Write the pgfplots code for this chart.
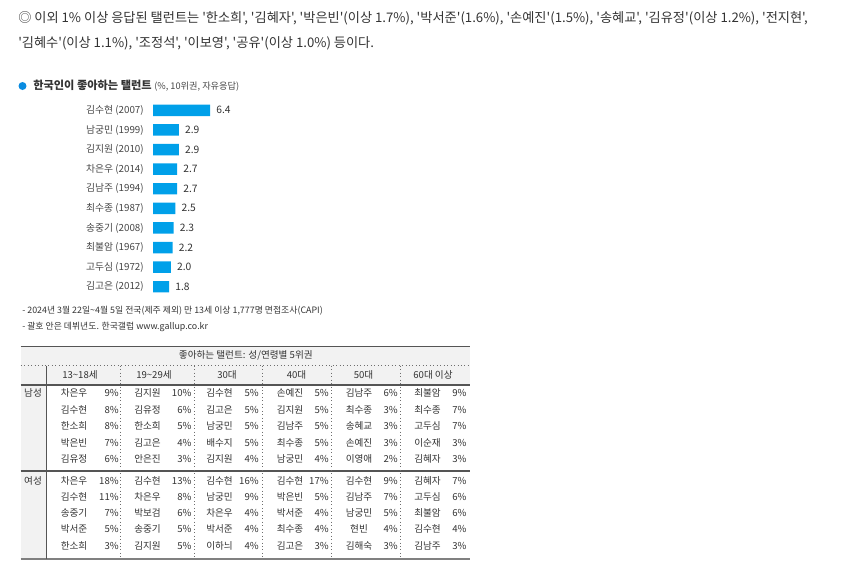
\documentclass[border=0pt]{standalone}
\usepackage{fontspec}
\setmainfont{Noto Sans CJK KR}[Ligatures=TeXOff]
\usepackage{pgfplots}
\pgfplotsset{compat=1.18}
\definecolor{barblue}{RGB}{0,160,233}
\definecolor{dotblue}{RGB}{10,140,225}
\definecolor{txt}{RGB}{51,51,51}
\definecolor{txtl}{RGB}{70,70,70}
\definecolor{hdr}{RGB}{242,242,242}
\definecolor{rulec}{RGB}{85,85,85}
\definecolor{dotc}{RGB}{110,110,110}
\newcommand\topfont{\fontsize{9.9pt}{11pt}\selectfont}
\newcommand\namefont{\fontsize{7.35pt}{8pt}\selectfont}
\newcommand\valfont{\fontsize{7.7pt}{9pt}\selectfont}
\newcommand\tabfont{\fontsize{7.2pt}{8pt}\selectfont}
\newcommand\notefont{\fontsize{6.65pt}{7pt}\selectfont}
\newcommand\trow[2]{%
  \foreach \n/\p [count=\i] in {#2}{%
    \pgfmathsetmacro\xc{{74,147.5,219.5,290,359,427.5}[\i-1]}%
    \pgfmathsetmacro\xr{{119,191.7,259,329,398,466.7}[\i-1]}%
    \node[inner sep=0pt, text=txt, font=\tabfont] at (\xc,#1) {\n};
    \node[inner sep=0pt, text=txt, font=\tabfont, anchor=east] at (\xr,#1) {\p\%};
  }}
\begin{document}
\begin{tikzpicture}
\begin{scope}[x=0.75pt,y=-0.75pt]
\path[use as bounding box] (0,0) rectangle (850,571);
% top text
\node[anchor=west, inner sep=0pt, text=txt, font=\topfont] at (18,18) {◎ 이외 1\% 이상 응답된 탤런트는 '한소희', '김혜자', '박은빈'(이상 1.7\%), '박서준'(1.6\%), '손예진'(1.5\%), '송혜교', '김유정'(이상 1.2\%), '전지현',};
\node[anchor=west, inner sep=0pt, text=txt, font=\topfont] at (18,43) {'김혜수'(이상 1.1\%), '조정석', '이보영', '공유'(이상 1.0\%) 등이다.};
% chart title
\fill[dotblue] (22.5,86) circle (4);
\node[anchor=west, inner sep=0pt, text=txt] at (33,86) {\fontsize{8.4pt}{9pt}\selectfont\bfseries 한국인이 좋아하는 탤런트 {\mdseries\fontsize{6.9pt}{8pt}\selectfont\color{txtl}(\%, 10위권, 자유응답)}};
% footnotes
\node[anchor=west, inner sep=0pt, text=txt, font=\notefont] at (22,311) {- 2024년 3월 22일\textasciitilde 4월 5일 전국(제주 제외) 만 13세 이상 1,777명 면접조사(CAPI)};
\node[anchor=west, inner sep=0pt, text=txt, font=\notefont] at (22,326.5) {- 괄호 안은 데뷔년도. 한국갤럽 www.gallup.co.kr};
% table frame
\fill[hdr] (20.7,346.7) rectangle (470,385);
\fill[hdr] (20.7,385) rectangle (46.7,559);
\draw[rulec, line width=1.1pt] (20.7,346.7) -- (470,346.7);
\draw[dotc, dotted, line width=0.6pt] (20.7,365.7) -- (470,365.7);
\draw[rulec, line width=1.1pt] (20.7,385) -- (470,385);
\draw[rulec, line width=1.1pt] (20.7,471) -- (470,471);
\draw[gray, line width=1.1pt] (20.7,559) -- (470,559);
\draw[rulec, line width=1.1pt] (46.7,365.7) -- (46.7,559);
\foreach \x in {120.7,194,262.3,331.7,400} \draw[dotc, dotted, line width=0.6pt] (\x,365.7) -- (\x,559);
% table header
\node[inner sep=0pt, text=txt, font=\tabfont] at (245.8,355.7) {좋아하는 탤런트: 성/연령별 5위권};
\foreach \x/\t in {80/13\textasciitilde 18세, 154/19\textasciitilde 29세, 227/30대, 296.5/40대, 363.5/50대, 433/60대 이상}
  \node[inner sep=0pt, text=txt, font=\tabfont] at (\x,375) {\t};
\node[inner sep=0pt, text=txt, font=\tabfont] at (33,393.3) {남성};
\node[inner sep=0pt, text=txt, font=\tabfont] at (33,480.7) {여성};
% table body: men
\trow{393.3}{차은우/9, 김지원/10, 김수현/5, 손예진/5, 김남주/6, 최불암/9}
\trow{409.8}{김수현/8, 김유정/6, 김고은/5, 김지원/5, 최수종/3, 최수종/7}
\trow{426.2}{한소희/8, 한소희/5, 남궁민/5, 김남주/5, 송혜교/3, 고두심/7}
\trow{442.6}{박은빈/7, 김고은/4, 배수지/5, 최수종/5, 손예진/3, 이순재/3}
\trow{459}{김유정/6, 안은진/3, 김지원/4, 남궁민/4, 이영애/2, 김혜자/3}
% women
\trow{480.7}{차은우/18, 김수현/13, 김수현/16, 김수현/17, 김수현/9, 김혜자/7}
\trow{496.5}{김수현/11, 차은우/8, 남궁민/9, 박은빈/5, 김남주/7, 고두심/6}
\trow{512.8}{송중기/7, 박보검/6, 차은우/4, 박서준/4, 남궁민/5, 최불암/6}
\trow{529}{박서준/5, 송중기/5, 박서준/4, 최수종/4, 현빈/4, 김수현/4}
\trow{545.5}{한소희/3, 김지원/5, 이하늬/4, 김고은/3, 김해숙/3, 김남주/3}
\end{scope}
\begin{axis}[
  at={(114.75pt,-75.4pt)}, anchor=north west,
  scale only axis, width=66.97pt, height=147pt,
  xmin=0, xmax=10, ymin=0.5, ymax=10.5, y dir=reverse,
  xbar, bar width=8.6pt, bar shift=0pt,
  hide x axis, axis y line*=left, y axis line style={draw=none},
  major tick length=0pt,
  ytick={1,...,10},
  yticklabels={김수현 (2007), 남궁민 (1999), 김지원 (2010), 차은우 (2014), 김남주 (1994), 최수종 (1987), 송중기 (2008), 최불암 (1967), 고두심 (1972), 김고은 (2012)},
  yticklabel style={font=\namefont, text=txtl, inner sep=0pt, anchor=east, xshift=-6.75pt},
  point meta=x,
  nodes near coords={\pgfmathprintnumber[fixed,fixed zerofill,precision=1]{\pgfplotspointmeta}},
  nodes near coords style={font=\valfont, text=txt, anchor=west, inner sep=0pt, xshift=4.5pt},
  /pgf/number format/assume math mode=true,
  clip=false,
]
\addplot[fill=barblue, draw=none] coordinates {(6.4,1) (2.9,2) (2.9,3) (2.7,4) (2.7,5) (2.5,6) (2.3,7) (2.2,8) (2.0,9) (1.8,10)};
\end{axis}
\end{tikzpicture}
\end{document}
